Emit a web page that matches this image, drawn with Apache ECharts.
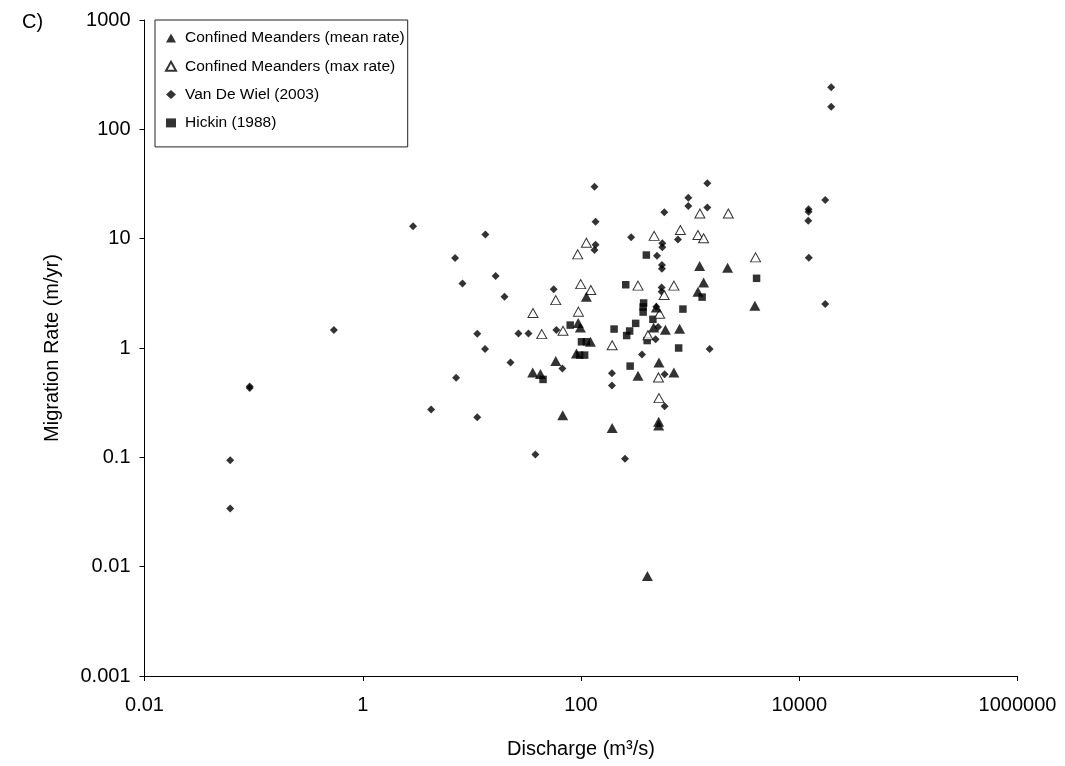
<!DOCTYPE html>
<html>
<head>
<meta charset="utf-8">
<script src="https://cdn.jsdelivr.net/npm/echarts@6/dist/echarts.min.js"></script>
<style>
  html, body { margin: 0; padding: 0; background: #fff; }
  #chart { width: 1065px; height: 766px; }
</style>
</head>
<body>
<div id="chart"></div>
<script>
// Discharge (m3/s) vs. migration rate (m/yr)
const xTickLabels = ['0.01', '1', '100', '10000', '1000000'];
const yTickLabels = ['0.001', '0.01', '0.1', '1', '10', '100', '1000'];

const seriesNames = [
  'Confined Meanders (mean rate)',
  'Confined Meanders (max rate)',
  'Van De Wiel (2003)',
  'Hickin (1988)'
];

// [discharge, migration rate]
const meanRate = [
  [112, 2.94], [94.3, 1.69], [98.7, 1.54], [122, 1.14], [90.8, 0.892],
  [58.7, 0.759], [36.1, 0.596], [42.5, 0.577], [68.0, 0.243], [193, 0.185],
  [515, 0.212], [515, 0.195], [406, 0.0082], [1222, 5.61], [2205, 5.42],
  [1329, 3.98], [1179, 3.27], [490, 2.35], [3921, 2.43], [463, 1.54],
  [593, 1.47], [801, 1.50], [518, 0.735], [333, 0.557], [710, 0.596]
];

const maxRate = [
  [112, 9.17], [93.3, 7.18], [99.4, 3.84], [123, 3.39], [58.7, 2.74],
  [36.3, 2.09], [94.7, 2.15], [43.7, 1.34], [68.4, 1.44], [193, 1.06],
  [468, 10.6], [814, 12.0], [1179, 10.8], [1329, 10.1], [1229, 17.0],
  [2238, 17.0], [3979, 6.74], [333, 3.72], [710, 3.72], [578, 3.05],
  [526, 2.06], [411, 1.31], [513, 0.538], [518, 0.348]
];

const vanDeWiel = [
  [2.89, 13.0], [13.3, 10.9], [7.02, 6.64], [16.5, 4.55], [8.20, 3.90],
  [0.544, 1.46], [11.2, 1.35], [13.2, 0.977], [7.17, 0.534], [0.092, 0.43],
  [0.092, 0.445], [4.23, 0.274], [11.2, 0.232], [0.061, 0.094], [0.061, 0.034],
  [133, 29.8], [136, 14.3], [136, 8.80], [133, 7.87], [56.2, 3.44],
  [19.9, 2.94], [26.7, 1.36], [33.0, 1.36], [59.5, 1.46], [22.6, 0.738],
  [67.5, 0.648], [192, 0.589], [192, 0.455], [38.2, 0.106], [253, 0.097],
  [1437, 32.1], [963, 23.7], [963, 19.9], [1437, 19.3], [580, 17.4],
  [288, 10.3], [773, 9.85], [556, 9.06], [556, 8.33], [497, 6.97],
  [552, 5.73], [552, 5.30], [548, 3.58], [548, 3.27], [490, 2.38],
  [509, 1.56], [483, 1.20], [362, 0.874], [584, 0.575], [584, 0.294],
  [1509, 0.977], [19630, 242], [19630, 161], [17300, 22.6], [12170, 18.6],
  [12170, 17.6], [12090, 14.6], [12240, 6.69], [17300, 2.52]
];

const hickin = [
  [257, 3.79], [397, 7.08], [4064, 4.34], [1288, 2.92], [375, 2.58],
  [371, 2.37], [371, 2.13], [859, 2.27], [456, 1.83], [317, 1.68],
  [279, 1.43], [262, 1.30], [201, 1.49], [79.6, 1.62], [404, 1.17],
  [785, 1.00], [282, 0.683], [101, 1.14], [112, 1.14], [97.3, 0.861],
  [108, 0.861], [44.9, 0.516]
];

const FONT = '"Liberation Sans", Arial, sans-serif';

function tickFormatter(labels) {
  return function (v) {
    const hit = labels.find(s => Math.abs(Math.log10(Number(s)) - Math.log10(v)) < 1e-6);
    return hit || '';
  };
}

const chart = echarts.init(document.getElementById('chart'), null, { renderer: 'canvas' });

chart.setOption({
  animation: false,
  backgroundColor: '#ffffff',
  textStyle: { fontFamily: FONT, color: '#000' },
  title: {
    text: 'C)',
    left: 17,
    top: 7,
    textStyle: { fontFamily: FONT, fontSize: 20, fontWeight: 'normal', color: '#000' }
  },
  legend: {
    data: seriesNames,
    orient: 'vertical',
    left: 155,
    top: 20,
    padding: [9, 3, 15, 10],
    itemGap: 10.3,
    itemWidth: 10,
    itemHeight: 9,
    borderColor: '#222',
    borderWidth: 1,
    backgroundColor: '#fff',
    textStyle: { fontFamily: FONT, fontSize: 15.5, color: '#000', lineHeight: 18, padding: [0, 0, 0, 4] }
  },
  grid: { left: 144.5, right: 47.5, top: 20, bottom: 90, containLabel: false },
  xAxis: {
    type: 'log',
    logBase: 100,
    min: 0.01,
    max: 1000000,
    name: 'Discharge (m³/s)',
    nameLocation: 'middle',
    nameGap: 63,
    nameTextStyle: { fontFamily: FONT, fontSize: 20, color: '#000' },
    axisLine: { show: true, onZero: false, lineStyle: { color: '#000', width: 1 } },
    axisTick: { show: true, inside: false, length: 5, lineStyle: { color: '#000' } },
    axisLabel: { fontFamily: FONT, fontSize: 20, color: '#000', margin: 19, formatter: tickFormatter(xTickLabels) },
    splitLine: { show: false },
    minorTick: { show: false }
  },
  yAxis: {
    type: 'log',
    logBase: 10,
    min: 0.001,
    max: 1000,
    name: 'Migration Rate (m/yr)',
    nameLocation: 'middle',
    nameGap: 82,
    nameTextStyle: { fontFamily: FONT, fontSize: 20, color: '#000' },
    axisLine: { show: true, onZero: false, lineStyle: { color: '#000', width: 1 } },
    axisTick: { show: true, inside: false, length: 5, lineStyle: { color: '#000' } },
    axisLabel: { fontFamily: FONT, fontSize: 20, color: '#000', margin: 14, formatter: tickFormatter(yTickLabels) },
    splitLine: { show: false }
  },
  series: [
    {
      name: seriesNames[0],
      type: 'scatter',
      data: meanRate,
      symbol: 'triangle',
      symbolSize: [11, 10],
      itemStyle: { color: '#000' },
      z: 4
    },
    {
      name: seriesNames[1],
      type: 'scatter',
      data: maxRate,
      symbol: 'triangle',
      symbolSize: [10, 9],
      itemStyle: { color: '#fff', borderColor: '#000', borderWidth: 1 },
      z: 3
    },
    {
      name: seriesNames[2],
      type: 'scatter',
      data: vanDeWiel,
      symbol: 'diamond',
      symbolSize: 8,
      itemStyle: { color: '#000' },
      z: 2
    },
    {
      name: seriesNames[3],
      type: 'scatter',
      data: hickin,
      symbol: 'rect',
      symbolSize: 7.5,
      itemStyle: { color: '#000' },
      z: 2
    }
  ]
});
</script>
</body>
</html>
